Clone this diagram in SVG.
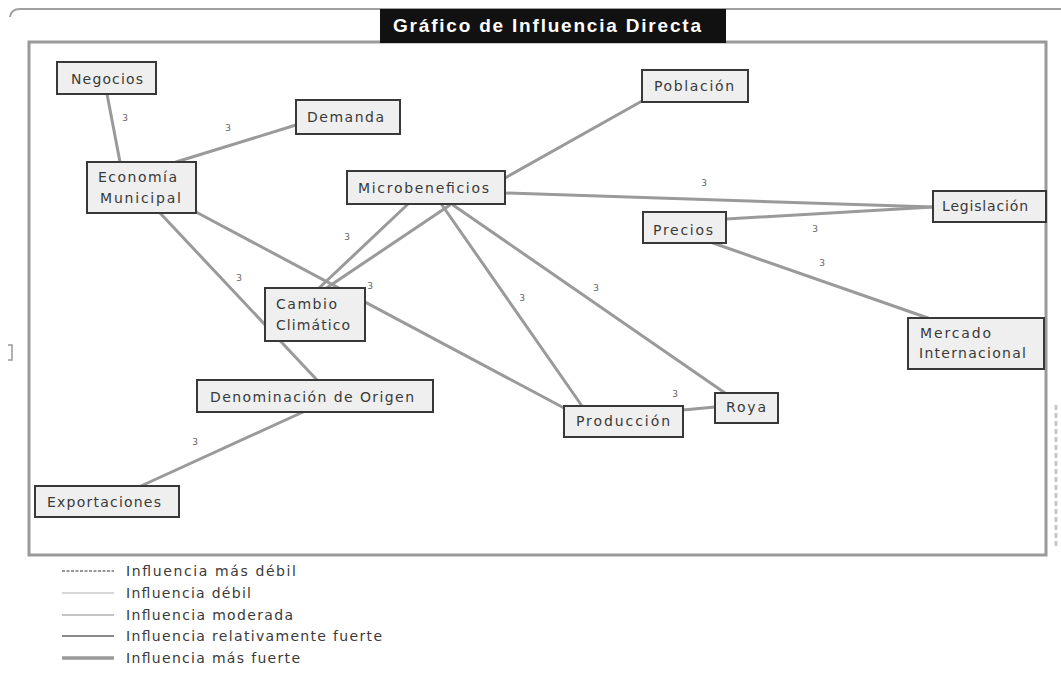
<svg xmlns="http://www.w3.org/2000/svg" width="1061" height="681" viewBox="0 0 1061 681">
<style>
.frame{fill:none;stroke:#9a9a9a;stroke-width:3}
.node rect{fill:#efefef;stroke:#383838;stroke-width:2}
.node text{font-family:"DejaVu Sans","Liberation Sans",sans-serif;font-size:14px;fill:#3a3a3a}
.conn line{stroke:#9a9a9a;stroke-width:3;stroke-linecap:round}
.lbl{font-family:"DejaVu Sans","Liberation Sans",sans-serif;font-size:9px;fill:#666;text-anchor:middle}
.leg text{font-family:"DejaVu Sans","Liberation Sans",sans-serif;font-size:14px;fill:#3a3a3a}
</style>
<rect width="1061" height="681" fill="#ffffff"/>
<path d="M10 17 Q11 9 20 9 L1061 9" fill="none" stroke="#a0a0a0" stroke-width="2"/>
<path d="M8 345 L12 345 L12 360 L8 360" fill="none" stroke="#999" stroke-width="1.5"/>
<rect class="frame" x="29" y="42" width="1017" height="513"/>
<line x1="1056" y1="405" x2="1056" y2="548" stroke="#c8c8c8" stroke-width="3" stroke-dasharray="5 3"/>
<g id="title">
<rect x="380" y="9" width="346" height="34" fill="#111"/>
<text x="547" y="32" text-anchor="middle" font-family="Liberation Sans, Arial, sans-serif" font-weight="bold" font-size="19" fill="#ffffff" textLength="308" lengthAdjust="spacing">Gráfico de Influencia Directa</text>
</g>
<g id="connectors" class="conn">
<line x1="107" y1="94" x2="120" y2="162"/>
<line x1="176" y1="162" x2="296" y2="125"/>
<line x1="505" y1="178" x2="642" y2="101"/>
<line x1="505" y1="193" x2="933" y2="207"/>
<line x1="726" y1="219" x2="933" y2="207"/>
<line x1="713" y1="243" x2="928" y2="318"/>
<line x1="160" y1="213" x2="317" y2="380"/>
<line x1="196" y1="212" x2="564" y2="408"/>
<line x1="407" y1="205" x2="318" y2="289"/>
<line x1="450" y1="205" x2="325" y2="289"/>
<line x1="442" y1="205" x2="582" y2="406"/>
<line x1="453" y1="205" x2="725" y2="393"/>
<line x1="683" y1="410" x2="715" y2="407"/>
<line x1="303" y1="412" x2="141" y2="486"/>
</g>
<g id="connector-labels">
<text class="lbl" x="125" y="121">3</text>
<text class="lbl" x="228" y="131">3</text>
<text class="lbl" x="704" y="186">3</text>
<text class="lbl" x="815" y="232">3</text>
<text class="lbl" x="822" y="266">3</text>
<text class="lbl" x="239" y="281">3</text>
<text class="lbl" x="370" y="289">3</text>
<text class="lbl" x="347" y="240">3</text>
<text class="lbl" x="522" y="301">3</text>
<text class="lbl" x="596" y="291">3</text>
<text class="lbl" x="675" y="397">3</text>
<text class="lbl" x="195" y="445">3</text>
</g>
<g id="negocios" class="node"><rect x="57" y="62" width="99" height="32"/><text x="71" y="84" textLength="72" lengthAdjust="spacing">Negocios</text></g>
<g id="demanda" class="node"><rect x="296" y="100" width="104" height="34"/><text x="307" y="122" textLength="77" lengthAdjust="spacing">Demanda</text></g>
<g id="economia" class="node"><rect x="87" y="162" width="109" height="51"/><text x="98" y="182" textLength="79" lengthAdjust="spacing">Economía</text><text x="100" y="203" textLength="81" lengthAdjust="spacing">Municipal</text></g>
<g id="microbeneficios" class="node"><rect x="347" y="171" width="158" height="33"/><text x="358" y="193" textLength="131" lengthAdjust="spacing">Microbeneficios</text></g>
<g id="poblacion" class="node"><rect x="642" y="70" width="106" height="32"/><text x="654" y="91" textLength="80" lengthAdjust="spacing">Población</text></g>
<g id="legislacion" class="node"><rect x="933" y="191" width="113" height="31"/><text x="942" y="211" textLength="86" lengthAdjust="spacing">Legislación</text></g>
<g id="precios" class="node"><rect x="643" y="212" width="83" height="31"/><text x="653" y="235" textLength="60" lengthAdjust="spacing">Precios</text></g>
<g id="cambio" class="node"><rect x="265" y="288" width="100" height="53"/><text x="276" y="309" textLength="61" lengthAdjust="spacing">Cambio</text><text x="276" y="330" textLength="74" lengthAdjust="spacing">Climático</text></g>
<g id="mercado" class="node"><rect x="908" y="318" width="136" height="51"/><text x="920" y="338" textLength="71" lengthAdjust="spacing">Mercado</text><text x="919" y="358" textLength="107" lengthAdjust="spacing">Internacional</text></g>
<g id="roya" class="node"><rect x="715" y="393" width="63" height="30"/><text x="726" y="412" textLength="40" lengthAdjust="spacing">Roya</text></g>
<g id="produccion" class="node"><rect x="564" y="406" width="119" height="31"/><text x="576" y="426" textLength="94" lengthAdjust="spacing">Producción</text></g>
<g id="denominacion" class="node"><rect x="197" y="380" width="236" height="32"/><text x="210" y="402" textLength="204" lengthAdjust="spacing">Denominación de Origen</text></g>
<g id="exportaciones" class="node"><rect x="35" y="486" width="144" height="31"/><text x="47" y="507" textLength="114" lengthAdjust="spacing">Exportaciones</text></g>
<g id="legend" class="leg">
<line x1="62" y1="571" x2="114" y2="571" stroke="#333" stroke-width="1.2" stroke-dasharray="3 1.5"/>
<text x="126" y="576" textLength="170" lengthAdjust="spacing">Influencia más débil</text>
<line x1="62" y1="593" x2="114" y2="593" stroke="#c8c8c8" stroke-width="1.5"/>
<text x="126" y="598" textLength="125" lengthAdjust="spacing">Influencia débil</text>
<line x1="62" y1="615" x2="114" y2="615" stroke="#8a8a8a" stroke-width="1.2"/>
<text x="126" y="620" textLength="167" lengthAdjust="spacing">Influencia moderada</text>
<line x1="62" y1="636" x2="114" y2="636" stroke="#8a8a8a" stroke-width="2.2"/>
<text x="126" y="641" textLength="256" lengthAdjust="spacing">Influencia relativamente fuerte</text>
<line x1="62" y1="658" x2="114" y2="658" stroke="#9a9a9a" stroke-width="3.5"/>
<text x="126" y="663" textLength="174" lengthAdjust="spacing">Influencia más fuerte</text>
</g>
</svg>
